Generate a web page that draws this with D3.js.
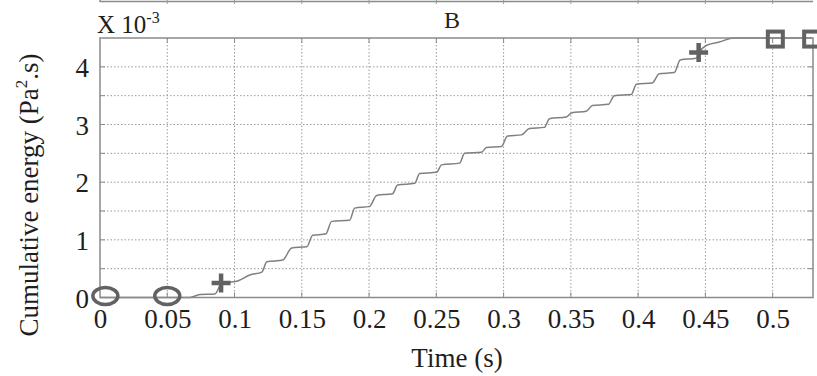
<!DOCTYPE html>
<html>
<head>
<meta charset="utf-8">
<script src="https://cdn.jsdelivr.net/npm/d3@7/dist/d3.min.js"></script>
<style>
  html, body { margin: 0; padding: 0; background: #fff; }
  svg { display: block; }
  svg text { font-family: "Liberation Serif", "DejaVu Serif", serif !important; fill: #1e1e1e; }
</style>
</head>
<body>
<div id="chart"></div>
<script>
// cumulative energy trace (x 1e-3 Pa^2.s)
const timeS = [0, 0.0668, 0.0742, 0.0854, 0.0906, 0.1017, 0.1114, 0.1203, 0.1240, 0.1359,
  0.1425, 0.1537, 0.1581, 0.1678, 0.1722, 0.1856, 0.1893, 0.2004, 0.2056, 0.2175,
  0.2212, 0.2339, 0.2376, 0.2502, 0.2539, 0.2673, 0.2710, 0.2836, 0.2873, 0.2984,
  0.3029, 0.3133, 0.3192, 0.3304, 0.3341, 0.3467, 0.3504, 0.3615, 0.3660, 0.3779,
  0.3823, 0.3950, 0.3987, 0.4105, 0.4157, 0.4269, 0.4313, 0.4432, 0.4454, 0.4506,
  0.4603, 0.4714, 0.5293];
const energy = [0, 0, 0.05, 0.06, 0.25, 0.28, 0.39, 0.44, 0.62, 0.65,
  0.86, 0.88, 1.08, 1.10, 1.32, 1.34, 1.55, 1.58, 1.77, 1.80,
  1.95, 1.98, 2.15, 2.17, 2.30, 2.33, 2.50, 2.52, 2.60, 2.62,
  2.80, 2.82, 2.93, 2.95, 3.10, 3.13, 3.20, 3.23, 3.33, 3.35,
  3.50, 3.52, 3.70, 3.72, 3.88, 3.90, 4.12, 4.15, 4.25, 4.37,
  4.43, 4.50, 4.50];

// event markers
const circleT = [0.004, 0.05];
const circleE = [0, 0];
const plusT = [0.09, 0.445];
const plusE = [0.25, 4.25];
const squareT = [0.502, 0.529];
const squareE = [4.49, 4.49];

const xTicks = [0, 0.05, 0.1, 0.15, 0.2, 0.25, 0.3, 0.35, 0.4, 0.45, 0.5];
const yTicks = [0, 1, 2, 3, 4];
const xGrid = [0.05, 0.1, 0.15, 0.2, 0.25, 0.3, 0.35, 0.4, 0.45, 0.5];
const yGrid = [0.5, 1, 1.5, 2, 2.5, 3, 3.5, 4];

const W = 817, H = 376;
const mLeft = 100, mRight = 813, mTop = 38, mBottom = 297.5;
const fs = 27;

const svg = d3.select('#chart').append('svg')
  .attr('width', W)
  .attr('height', H);

svg.append('rect').attr('width', W).attr('height', H).attr('fill', '#fff');

const x = d3.scaleLinear().domain([0, 0.53]).range([mLeft, mRight]);
const y = d3.scaleLinear().domain([0, 4.5]).range([mBottom, mTop]);

const gridColor = '#9a9a9a';
const frameColor = '#8a8a8a';

// remnant of the panel above
svg.append('line')
  .attr('x1', mLeft).attr('x2', mRight).attr('y1', 1.5).attr('y2', 1.5)
  .attr('stroke', frameColor).attr('stroke-width', 1.5);
svg.append('g').selectAll('line')
  .data(xGrid)
  .join('line')
  .attr('x1', d => x(d)).attr('x2', d => x(d))
  .attr('y1', 0).attr('y2', 4)
  .attr('stroke', gridColor).attr('stroke-width', 1);
svg.append('line')
  .attr('x1', mLeft).attr('x2', mLeft).attr('y1', 0).attr('y2', 2)
  .attr('stroke', frameColor).attr('stroke-width', 1.5);

// grid
svg.append('g').selectAll('line')
  .data(xGrid)
  .join('line')
  .attr('x1', d => x(d)).attr('x2', d => x(d))
  .attr('y1', mTop).attr('y2', mBottom)
  .attr('stroke', gridColor).attr('stroke-width', 1)
  .attr('stroke-dasharray', '1.5,2');

svg.append('g').selectAll('line')
  .data(yGrid)
  .join('line')
  .attr('x1', mLeft).attr('x2', mRight)
  .attr('y1', d => y(d)).attr('y2', d => y(d))
  .attr('stroke', gridColor).attr('stroke-width', 1)
  .attr('stroke-dasharray', '1.5,2');

// inner tick marks
const ticks = svg.append('g').attr('stroke', frameColor).attr('stroke-width', 1);
ticks.selectAll('.yt')
  .data(yGrid)
  .join('path')
  .attr('d', d => `M${mLeft},${y(d)}h5M${mRight},${y(d)}h-5`);
ticks.selectAll('.xt')
  .data(xGrid)
  .join('path')
  .attr('d', d => `M${x(d)},${mBottom}v-5M${x(d)},${mTop}v5`);

// tick labels via d3 axes
const xAxis = svg.append('g')
  .attr('transform', `translate(0,${mBottom})`)
  .call(d3.axisBottom(x).tickValues(xTicks).tickSize(0).tickPadding(11)
    .tickFormat(d => String(+d.toFixed(2))));
xAxis.attr('font-family', null).attr('font-size', null);
xAxis.selectAll('text').style('font-size', fs + 'px');
xAxis.select('.domain').remove();

const yAxis = svg.append('g')
  .attr('transform', `translate(${mLeft},0)`)
  .call(d3.axisLeft(y).tickValues(yTicks).tickSize(0).tickPadding(11)
    .tickFormat(d3.format('d')));
yAxis.attr('font-family', null).attr('font-size', null);
yAxis.selectAll('text').style('font-size', fs + 'px').attr('dy', '0.36em');
yAxis.select('.domain').remove();

// data line
const pts = timeS.map((t, i) => [t, energy[i]]);
const line = d3.line()
  .x(d => x(d[0]))
  .y(d => y(d[1]))
  .curve(d3.curveMonotoneX);

svg.append('path')
  .datum(pts)
  .attr('d', line)
  .attr('fill', 'none')
  .attr('stroke', '#808080')
  .attr('stroke-width', 1.5);

// frame
svg.append('rect')
  .attr('x', mLeft).attr('y', mTop)
  .attr('width', mRight - mLeft).attr('height', mBottom - mTop)
  .attr('fill', 'none')
  .attr('stroke', frameColor)
  .attr('stroke-width', 1.5);

// markers
const markColor = '#626262';
svg.append('g').selectAll('ellipse')
  .data(circleT.map((t, i) => [t, circleE[i]]))
  .join('ellipse')
  .attr('cx', d => x(d[0])).attr('cy', d => y(d[1]) - 1.5)
  .attr('rx', 12.5).attr('ry', 8.5)
  .attr('fill', 'none').attr('stroke', markColor).attr('stroke-width', 3.5);

svg.append('g').selectAll('path')
  .data(plusT.map((t, i) => [t, plusE[i]]))
  .join('path')
  .attr('d', d => `M${x(d[0]) - 9.5},${y(d[1])}h19M${x(d[0])},${y(d[1]) - 9.5}v19`)
  .attr('stroke', markColor).attr('stroke-width', 4.5);

svg.append('g').selectAll('rect')
  .data(squareT.map((t, i) => [t, squareE[i]]))
  .join('rect')
  .attr('x', d => x(d[0]) - 7.5).attr('y', d => y(d[1]) - 7)
  .attr('width', 15).attr('height', 15)
  .attr('fill', 'none').attr('stroke', markColor).attr('stroke-width', 4);

// texts
svg.append('text')
  .attr('x', 452).attr('y', 28)
  .attr('text-anchor', 'middle')
  .style('font-size', '24px')
  .text('B');

const exp = svg.append('text')
  .attr('x', 97).attr('y', 33)
  .style('font-size', '25px');
exp.append('tspan').text('X 10');
exp.append('tspan').attr('dy', -10).style('font-size', '16px').text('-3');

svg.append('text')
  .attr('x', 457).attr('y', 367)
  .attr('text-anchor', 'middle')
  .style('font-size', fs + 'px')
  .text('Time (s)');

const yl = svg.append('text')
  .attr('transform', 'translate(38,195) rotate(-90)')
  .attr('text-anchor', 'middle')
  .style('font-size', fs + 'px');
yl.append('tspan').text('Cumulative energy (Pa');
yl.append('tspan').attr('dy', -11).style('font-size', '17px').text('2');
yl.append('tspan').attr('dy', 11).text('.s)');
</script>
</body>
</html>
